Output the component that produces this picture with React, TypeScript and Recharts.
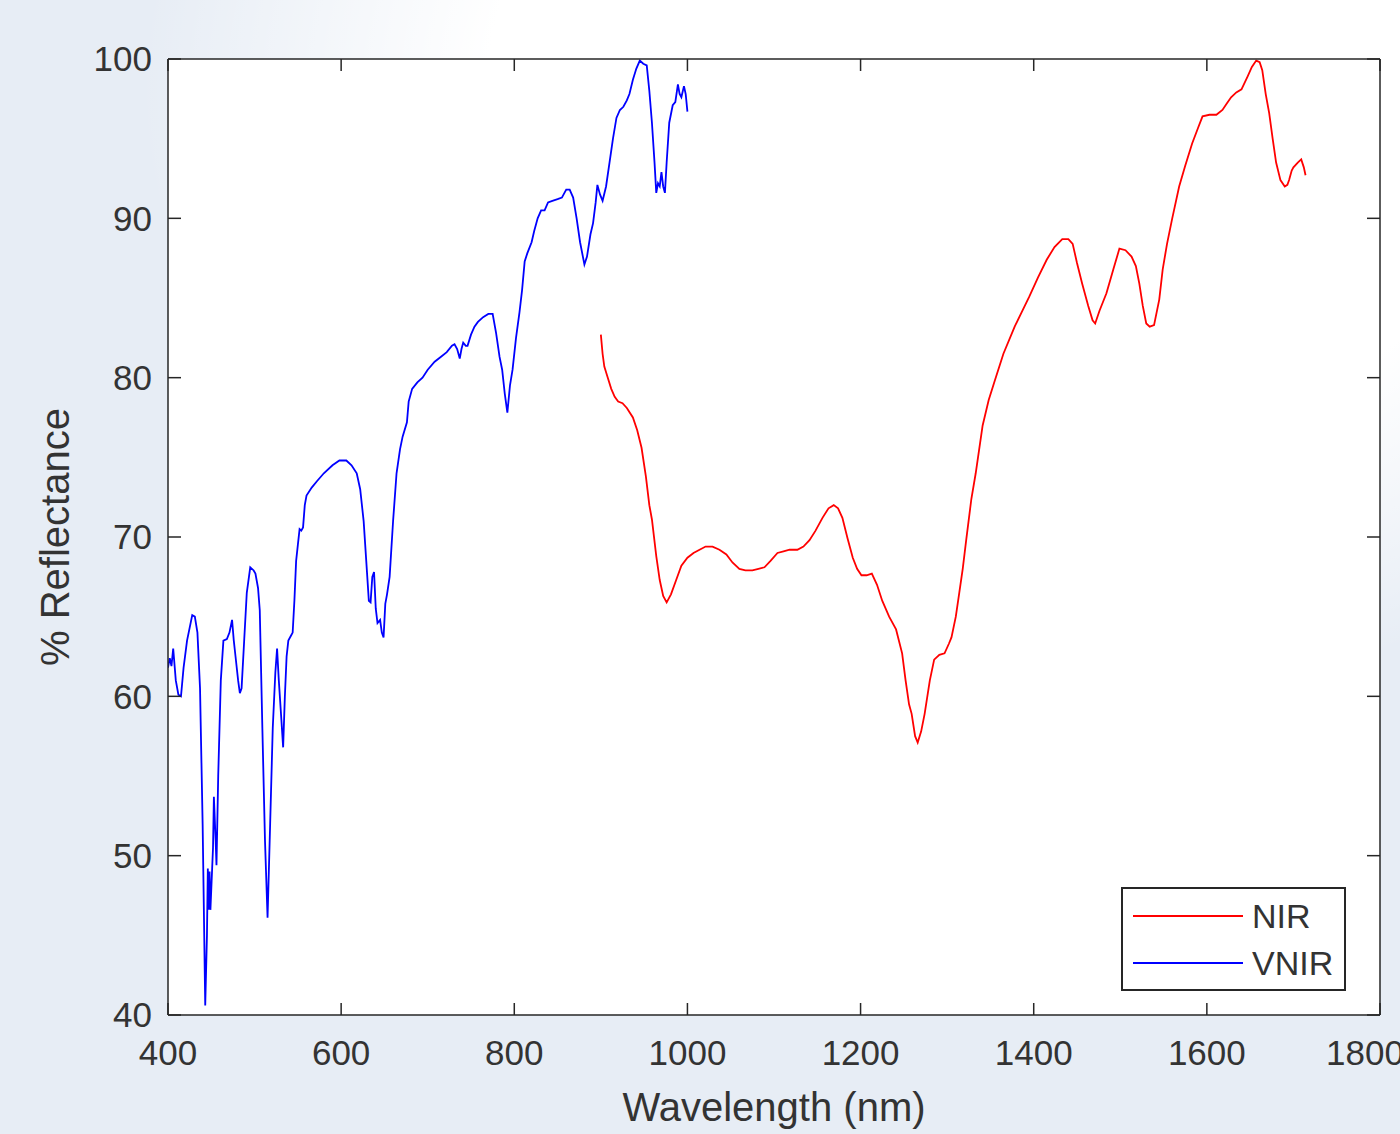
import { LineChart, Line, XAxis, YAxis, CartesianGrid, Legend } from 'recharts'

// VNIR spectrum: wavelength (nm) / % reflectance
const VNIR_NM = [
  400, 402, 404, 406, 409, 412, 415, 418, 422, 428, 431, 434, 437, 440, 443, 445, 446, 447, 448, 449,
  451, 452, 453, 455, 456, 458, 461, 464, 468, 471, 474, 476, 478, 481, 483, 485, 488, 491, 495, 499,
  501, 504, 506, 509, 512, 515, 518, 521, 524, 526, 528, 531, 533, 535, 537, 539, 542, 544, 546, 548,
  550, 552, 554, 556, 558, 560, 566, 572, 580, 590, 598, 606, 612, 618, 622, 626, 629, 632, 634, 636,
  638, 640, 642, 645, 647, 649, 651, 653, 656, 660, 664, 668, 671, 676, 678, 682, 688, 694, 700, 708,
  715, 722, 728, 731, 734, 737, 739, 741, 744, 746, 750, 754, 758, 764, 770, 775, 779, 783, 786, 789,
  792, 795, 798, 802, 806, 809, 812, 815, 820, 823, 827, 831, 835, 839, 844, 850, 855, 860, 864, 868,
  872, 876, 881, 884, 888, 891, 894, 896, 899, 902, 906, 910, 914, 918, 922, 926, 930, 933, 937, 941,
  945, 949, 953, 956, 959, 962, 964, 966, 968, 970, 972, 974, 976, 979, 983, 986, 989, 991, 993, 996,
  998, 1000,
]
const VNIR_R = [
  61.8, 62.4, 61.9, 63.0, 61.0, 60.1, 60.0, 61.8, 63.5, 65.1, 65.0, 64.0, 60.5, 52.0, 40.6, 45.0, 49.2, 46.6, 49.0, 46.6,
  49.2, 50.5, 53.7, 51.0, 49.4, 55.0, 61.0, 63.5, 63.6, 64.0, 64.8, 63.5, 62.5, 61.0, 60.2, 60.5, 63.5, 66.5, 68.1, 67.9,
  67.7, 66.8, 65.4, 58.0, 51.0, 46.1, 52.0, 58.0, 61.5, 63.0, 61.0, 58.5, 56.8, 60.0, 62.5, 63.5, 63.8, 64.0, 66.0, 68.5,
  69.5, 70.5, 70.4, 70.6, 72.0, 72.6, 73.1, 73.5, 74.0, 74.5, 74.8, 74.8, 74.5, 74.0, 73.0, 71.0, 68.5, 66.0, 65.9, 67.5,
  67.8, 65.5, 64.6, 64.8, 64.0, 63.7, 65.8, 66.4, 67.5, 71.0, 74.0, 75.5, 76.3, 77.2, 78.5, 79.3, 79.7, 80.0, 80.5, 81.0,
  81.3, 81.6, 82.0, 82.1, 81.8, 81.2, 81.8, 82.2, 82.0, 82.0, 82.7, 83.2, 83.5, 83.8, 84.0, 84.0, 82.8, 81.3, 80.5, 79.0,
  77.8, 79.5, 80.5, 82.5, 84.1, 85.5, 87.3, 87.8, 88.5, 89.2, 90.0, 90.5, 90.5, 91.0, 91.1, 91.2, 91.3, 91.8, 91.8, 91.3,
  90.0, 88.5, 87.1, 87.6, 89.0, 89.7, 91.0, 92.1, 91.5, 91.1, 92.0, 93.5, 95.0, 96.3, 96.8, 97.0, 97.4, 97.8, 98.7, 99.4,
  99.9, 99.7, 99.6, 98.0, 96.0, 93.5, 91.6, 92.2, 92.0, 92.9, 92.0, 91.6, 93.5, 96.0, 97.1, 97.3, 98.4, 97.8, 97.6, 98.3,
  97.8, 96.7,
]

// NIR spectrum
const NIR_NM = [
  900, 902, 904, 908, 912, 916, 920, 925, 930, 937, 942, 947, 952, 956, 959, 964, 968, 972, 976, 981,
  987, 993, 1000, 1007, 1014, 1021, 1029, 1037, 1045, 1052, 1060, 1067, 1075, 1082, 1089, 1096, 1104, 1111, 1118, 1127,
  1134, 1141, 1148, 1156, 1163, 1169, 1174, 1179, 1185, 1191, 1196, 1201, 1207, 1213, 1219, 1225, 1233, 1241, 1248, 1252,
  1256, 1259, 1263, 1266, 1270, 1274, 1280, 1285, 1291, 1297, 1302, 1305, 1310, 1314, 1318, 1322, 1328, 1333, 1341, 1348,
  1355, 1365, 1378, 1386, 1395, 1405, 1415, 1424, 1433, 1440, 1445, 1450, 1456, 1463, 1468, 1471, 1476, 1484, 1492, 1499,
  1506, 1513, 1518, 1522, 1526, 1530, 1534, 1539, 1545, 1549, 1554, 1560, 1568, 1575, 1583, 1590, 1595, 1603, 1611, 1618,
  1623, 1628, 1634, 1640, 1647, 1652, 1657, 1661, 1664, 1668, 1672, 1676, 1680, 1685, 1690, 1693, 1695, 1698, 1700, 1705,
  1709, 1712, 1714,
]
const NIR_R = [
  82.7, 81.5, 80.7, 80.0, 79.3, 78.8, 78.5, 78.4, 78.1, 77.5, 76.7, 75.6, 73.8, 72.0, 71.1, 68.8, 67.3, 66.3, 65.9, 66.4,
  67.3, 68.2, 68.7, 69.0, 69.2, 69.4, 69.4, 69.2, 68.9, 68.4, 68.0, 67.9, 67.9, 68.0, 68.1, 68.5, 69.0, 69.1, 69.2, 69.2,
  69.4, 69.8, 70.4, 71.2, 71.8, 72.0, 71.8, 71.2, 69.9, 68.7, 68.0, 67.6, 67.6, 67.7, 67.0, 66.0, 65.0, 64.2, 62.7, 61.0,
  59.5, 58.9, 57.5, 57.1, 57.8, 58.9, 61.0, 62.3, 62.6, 62.7, 63.3, 63.7, 65.0, 66.5, 68.0, 69.8, 72.4, 74.0, 77.0, 78.6,
  79.8, 81.5, 83.2, 84.1, 85.1, 86.3, 87.4, 88.2, 88.7, 88.7, 88.4, 87.2, 85.9, 84.5, 83.6, 83.4, 84.2, 85.3, 86.8, 88.1,
  88.0, 87.6, 87.0, 85.9, 84.5, 83.4, 83.2, 83.3, 84.9, 86.8, 88.4, 90.0, 92.0, 93.3, 94.7, 95.7, 96.4, 96.5, 96.5, 96.8,
  97.2, 97.6, 97.9, 98.1, 98.9, 99.5, 99.9, 99.8, 99.3, 97.8, 96.6, 95.0, 93.5, 92.4, 92.0, 92.1, 92.4, 93.0, 93.2, 93.5,
  93.7, 93.2, 92.7,
]

const X_TICKS = [400, 600, 800, 1000, 1200, 1400, 1600, 1800]
const Y_TICKS = [40, 50, 60, 70, 80, 90, 100]

const nirData = NIR_NM.map((nm, i) => ({ nm, r: NIR_R[i] }))
const vnirData = VNIR_NM.map((nm, i) => ({ nm, r: VNIR_R[i] }))

const AXIS = '#262626'
const TEXT = '#333333'
const FONT = 'Liberation Sans, Arial, sans-serif'

// tick marks only, no labels (top / right box sides)
const NoLabel = () => <g />

const LegendBox = () => (
  <div style={{
    width: 221, height: 100, background: '#fff', border: `2px solid ${AXIS}`,
    fontFamily: FONT, fontSize: 34, color: TEXT, position: 'relative',
  }}>
    {[['NIR', '#ff0000', 27], ['VNIR', '#0000ff', 74]].map(([name, color, top]) => (
      <div key={name as string} style={{ position: 'absolute', left: 10, top: (top as number) - 20, height: 40, display: 'flex', alignItems: 'center' }}>
        <div style={{ width: 110, height: 0, borderTop: `2px solid ${color}` }} />
        <span style={{ marginLeft: 9, lineHeight: '40px' }}>{name}</span>
      </div>
    ))}
  </div>
)

export default function App() {
  return (
    <div style={{
      position: 'absolute', left: 0, top: 0, width: 1400, height: 1134, overflow: 'hidden',
      background: 'radial-gradient(ellipse 62% 55% at 72% 8%, #ffffff 60%, rgba(255,255,255,0) 100%), #e7edf5',
    }}>
      <LineChart width={1400} height={1134} margin={{ top: 58, right: 19, bottom: 9, left: 30 }}>
        <CartesianGrid horizontal={false} vertical={false} fill="#ffffff" />
        <XAxis
          type="number" dataKey="nm" domain={[400, 1800]} ticks={X_TICKS} allowDataOverflow
          height={110} tickSize={-12} tickMargin={37}
          stroke={AXIS} strokeWidth={1.5}
          tick={{ fill: TEXT, fontSize: 35, fontFamily: FONT }}
          label={{ value: 'Wavelength (nm)', position: 'insideBottom', offset: 4, fill: TEXT, fontSize: 40, fontFamily: FONT }}
        />
        <XAxis
          xAxisId="top" orientation="top" type="number" dataKey="nm" domain={[400, 1800]} ticks={X_TICKS} allowDataOverflow
          height={1} tickSize={-12} tick={NoLabel} stroke={AXIS} strokeWidth={1.5}
        />
        <YAxis
          type="number" domain={[40, 100]} ticks={Y_TICKS} allowDataOverflow
          width={138} tickSize={-13} tickMargin={29}
          stroke={AXIS} strokeWidth={1.5}
          tick={{ fill: TEXT, fontSize: 35, fontFamily: FONT }}
          label={{ value: '% Reflectance', angle: -90, position: 'insideLeft', offset: 25, fill: TEXT, fontSize: 40, fontFamily: FONT, style: { textAnchor: 'middle' } }}
        />
        <YAxis
          yAxisId="right" orientation="right" type="number" domain={[40, 100]} ticks={Y_TICKS} allowDataOverflow
          width={1} tickSize={-13} tick={NoLabel} stroke={AXIS} strokeWidth={1.5}
        />
        <Legend
          layout="horizontal" verticalAlign="middle" align="center"
          content={() => <LegendBox />}
          wrapperStyle={{ position: 'absolute', left: 1121, top: 887, width: 225, height: 104 }}
        />
        {/* invisible series so the top / right box axes get a scale and draw their ticks */}
        <Line data={nirData} xAxisId="top" yAxisId="right" dataKey="r" stroke="none" dot={false} activeDot={false} legendType="none" isAnimationActive={false} />
        <Line data={nirData} dataKey="r" name="NIR" type="linear" stroke="#ff0000" strokeWidth={1.8} dot={false} isAnimationActive={false} />
        <Line data={vnirData} dataKey="r" name="VNIR" type="linear" stroke="#0000ff" strokeWidth={1.8} dot={false} isAnimationActive={false} />
      </LineChart>
    </div>
  )
}
